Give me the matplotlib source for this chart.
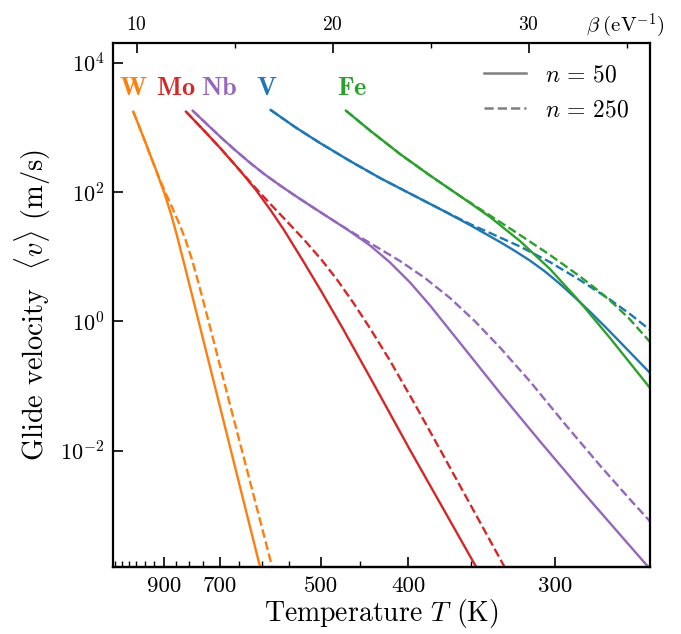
import numpy as np
import matplotlib
matplotlib.use("Agg")
import matplotlib.pyplot as plt
from matplotlib.lines import Line2D
from matplotlib.ticker import FixedLocator, NullLocator, FormatStrFormatter, NullFormatter

plt.rcParams["font.family"] = "serif"
plt.rcParams["font.serif"] = ["cmr10"]
plt.rcParams["mathtext.fontset"] = "cm"
plt.rcParams["axes.unicode_minus"] = False
plt.rcParams["axes.formatter.use_mathtext"] = True

# beta (eV^-1) <-> temperature (K)
T_SCALE = 8970.0
BETA_OFFSET = 1.441

# curves: beta (eV^-1) and log10 of glide velocity (m/s), n = 50 and n = 250
w_beta_50 = [9.827, 10.398, 10.985, 11.444, 11.765, 12.046, 12.372, 12.888, 14.163,
             15.439, 16.291, 16.393]
w_logv_50 = [3.243, 2.805, 2.342, 1.955, 1.646, 1.337, 0.951, 0.332, -1.213,
             -2.759, -3.790, -3.918]
w_beta_250 = [9.827, 10.398, 10.883, 11.189, 11.520, 11.867, 12.199, 12.495, 12.827,
              13.112, 13.383, 13.755, 14.699, 16.026, 16.908, 17.015]
w_logv_250 = [3.243, 2.805, 2.419, 2.187, 1.955, 1.723, 1.491, 1.260, 0.951,
              0.641, 0.332, -0.100, -1.213, -2.759, -3.790, -3.918]

mo_beta_50 = [12.515, 13.408, 14.352, 15.245, 16.087, 16.827, 17.515, 18.459, 19.378,
              20.500, 21.980, 23.944, 27.311, 27.541]
mo_logv_50 = [3.243, 2.960, 2.651, 2.342, 2.032, 1.723, 1.414, 0.951, 0.487,
              -0.100, -0.904, -1.986, -3.790, -3.918]
mo_beta_250 = [12.515, 13.408, 14.352, 15.245, 16.158, 16.867, 17.597, 18.551, 19.439,
               20.235, 21.071, 21.893, 22.903, 24.071, 25.490, 26.893, 28.760, 28.985]
mo_logv_250 = [3.243, 2.960, 2.651, 2.342, 2.032, 1.801, 1.569, 1.260, 0.951,
               0.641, 0.281, -0.100, -0.595, -1.213, -1.986, -2.759, -3.790, -3.918]

nb_beta_50 = [12.857, 14.250, 15.015, 15.781, 16.546, 17.311, 18.077, 18.842, 19.862,
              20.883, 21.903, 22.923, 23.944, 24.964, 25.985, 27.005, 28.536, 30.577,
              32.617, 34.658, 36.189]
nb_logv_50 = [3.258, 2.859, 2.651, 2.453, 2.270, 2.104, 1.946, 1.794, 1.594,
              1.393, 1.176, 0.913, 0.604, 0.249, -0.138, -0.524, -1.105, -1.853,
              -2.583, -3.294, -3.825]
nb_beta_250 = [12.857, 14.250, 15.015, 15.781, 16.546, 17.311, 18.077, 18.842, 19.862,
               20.883, 22.158, 23.434, 24.709, 25.985, 27.260, 28.536, 30.066, 31.939,
               33.638, 35.168, 36.189]
nb_logv_250 = [3.258, 2.859, 2.651, 2.453, 2.270, 2.104, 1.946, 1.794, 1.594,
               1.399, 1.167, 0.935, 0.672, 0.363, 0.003, -0.402, -0.926, -1.618,
               -2.226, -2.750, -3.090]

v_beta_50 = [16.837, 18.077, 19.352, 20.883, 22.413, 23.944, 25.474, 27.005, 28.536,
             29.301, 30.066, 30.832, 31.597, 32.362, 33.128, 33.893, 34.658, 35.423,
             36.189]
v_logv_50 = [3.269, 3.006, 2.759, 2.481, 2.218, 1.978, 1.739, 1.491, 1.229,
             1.090, 0.941, 0.773, 0.580, 0.371, 0.151, -0.079, -0.317, -0.556,
             -0.796]
v_beta_250 = [16.837, 18.077, 19.352, 20.883, 22.413, 23.944, 25.474, 27.005, 28.026,
              29.556, 31.087, 32.617, 34.148, 35.168, 36.189]
v_logv_250 = [3.269, 3.006, 2.759, 2.481, 2.218, 1.978, 1.739, 1.507, 1.368,
              1.159, 0.918, 0.640, 0.338, 0.116, -0.131]

fe_beta_50 = [20.679, 21.903, 23.434, 24.964, 26.495, 28.026, 29.556, 31.087, 32.617,
              34.148, 35.168, 36.189]
fe_logv_50 = [3.258, 2.952, 2.589, 2.257, 1.940, 1.615, 1.244, 0.811, 0.301,
              -0.255, -0.641, -1.028]
fe_beta_250 = [20.679, 21.903, 23.434, 24.964, 26.495, 28.026, 29.556, 31.087, 32.617,
               33.638, 34.403, 35.168, 36.189]
fe_logv_250 = [3.258, 2.952, 2.589, 2.257, 1.940, 1.638, 1.337, 1.028, 0.696,
               0.456, 0.255, 0.031, -0.317]

METALS = ["W", "Mo", "Nb", "V", "Fe"]
COLORS = {
    "W": "#ff7f0e",
    "Mo": "#d62728",
    "Nb": "#9467bd",
    "V": "#1f77b4",
    "Fe": "#2ca02c",
}
CURVES = {
    "W": (w_beta_50, w_logv_50, w_beta_250, w_logv_250),
    "Mo": (mo_beta_50, mo_logv_50, mo_beta_250, mo_logv_250),
    "Nb": (nb_beta_50, nb_logv_50, nb_beta_250, nb_logv_250),
    "V": (v_beta_50, v_logv_50, v_beta_250, v_logv_250),
    "Fe": (fe_beta_50, fe_logv_50, fe_beta_250, fe_logv_250),
}
# label positions (beta, velocity)
LABEL_BETA = [9.82, 11.98, 14.22, 16.64, 20.98]
LABEL_V = 4.1e3

T_MAJOR = [900, 700, 500, 400, 300]
T_MINOR = [1200, 1150, 1100, 1050, 1000, 950, 850, 800, 750, 650, 600, 550, 450, 350]
BETA_MAJOR = [10, 20, 30]
BETA_MINOR = [15, 25, 35]


def beta_to_T(b):
    b = np.asarray(b, dtype=float)
    return T_SCALE / np.clip(b - BETA_OFFSET, 1e-6, None)


def T_to_beta(t):
    t = np.asarray(t, dtype=float)
    return T_SCALE / np.clip(t, 1e-6, None) + BETA_OFFSET


fig = plt.figure(figsize=(6.81, 6.34), dpi=100)
ax = fig.add_axes([0.1655, 0.1062, 0.789, 0.8265])

for metal in METALS:
    b50, l50, b250, l250 = CURVES[metal]
    ax.plot(b50, 10 ** np.array(l50), "-", color=COLORS[metal], lw=1.7)
    ax.plot(b250, 10 ** np.array(l250), "--", color=COLORS[metal], lw=1.7)

for metal, xb in zip(METALS, LABEL_BETA):
    ax.text(xb, LABEL_V, r"$\mathbf{%s}$" % metal, color=COLORS[metal],
            fontsize=19, ha="center", va="center")

ax.set_yscale("log")
ax.set_xlim(8.776, 36.19)
ax.set_ylim(10 ** -3.79, 10 ** 4.31)
ax.yaxis.set_major_locator(FixedLocator([1e-2, 1e0, 1e2, 1e4]))
ax.yaxis.set_minor_locator(NullLocator())
ax.tick_params(axis="y", which="major", direction="in", length=7, width=1.2,
               labelsize=16, right=False, pad=6)

# top axis: beta
ax.xaxis.set_ticks_position("top")
ax.xaxis.set_major_locator(FixedLocator(BETA_MAJOR))
ax.xaxis.set_minor_locator(FixedLocator(BETA_MINOR))
ax.tick_params(axis="x", which="major", direction="in", length=7, width=1.2,
               labelsize=14, pad=6)
ax.tick_params(axis="x", which="minor", direction="in", length=3.5, width=1.0)
ax.text(0.955, 1.006, r"$\beta\;(\mathrm{eV}^{-1})$", transform=ax.transAxes,
        fontsize=15, ha="center", va="bottom")

# bottom axis: temperature
secax = ax.secondary_xaxis("bottom", functions=(beta_to_T, T_to_beta))
secax.xaxis.set_major_locator(FixedLocator(T_MAJOR))
secax.xaxis.set_minor_locator(FixedLocator(T_MINOR))
secax.xaxis.set_major_formatter(FormatStrFormatter("%d"))
secax.xaxis.set_minor_formatter(NullFormatter())
secax.tick_params(which="major", direction="in", length=7, width=1.2,
                  labelsize=16.5, pad=7)
secax.tick_params(which="minor", direction="in", length=4, width=1.0)
secax.set_xlabel(r"Temperature $T$ (K)", fontsize=20, labelpad=1)
for sp in secax.spines.values():
    sp.set_linewidth(1.6)

ax.set_ylabel(r"Glide velocity  $\langle v\rangle$ (m/s)", fontsize=20.5, labelpad=5)
for sp in ax.spines.values():
    sp.set_linewidth(1.6)

handles = [
    Line2D([], [], color="0.5", ls="-", lw=1.8, label=r"$n\,=\,50$"),
    Line2D([], [], color="0.5", ls="--", lw=1.8, label=r"$n\,=\,250$"),
]
ax.legend(handles=handles, loc="upper right", frameon=False, fontsize=17,
          handlelength=1.75, handletextpad=0.8, labelspacing=0.55,
          borderaxespad=0.5)

fig.savefig("out.png", dpi=100)
